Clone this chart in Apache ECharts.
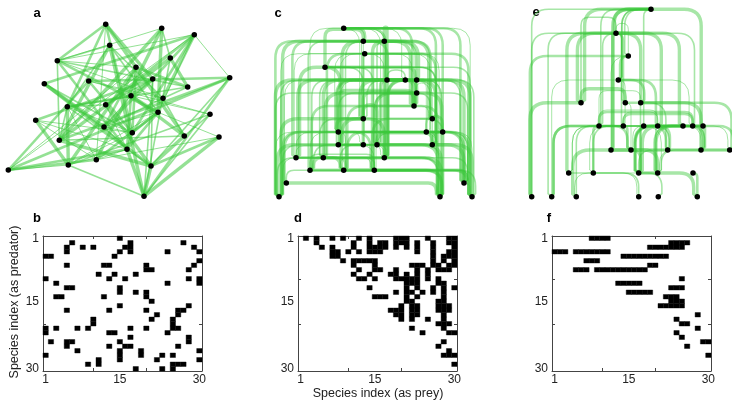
<!DOCTYPE html>
<html><head><meta charset="utf-8">
<script src="https://cdn.jsdelivr.net/npm/echarts@6.0.0/dist/echarts.min.js"></script>
<style>html,body{margin:0;padding:0;background:#fff}#chart{width:732px;height:401px}</style>
</head><body><div id="chart"></div>
<script>
// Adjacency matrices: row = predator index (1..30), list = prey indices (1..30)
const preyB = [[15],[6,17,27],[5,8,10,16,17,29],[5,15,17,24,30],[1,2,14],[30],[5,12,13,20,29],[20,21,28],[11,14,18],[1,13,16,28,30],
  [3,24,30],[5,6,15],[15,18,20],[3,4,12,20],[21],[15,28],[5,13,20,26,27],[22,26],[10,21,25],[10,25],
  [1,3,7,9,17,20,25,26],[1,13,14,24],[17,28],[2,5,6,15,28],[5,13,16,17,26],[7,15,19,30],[1,15,19,23,25],[11,15,22,30],[9,11,25,26,27],[18,23,25]];
const preyD = [[2,4,7,9,12,14,19,20,21,25,29,30],[4,11,14,16,17,19,20,21,23,26,29,30],[5,7,11,14,15,16,17,19,21,23,26,30],
  [7,8,10,12,14,15,16,23,26,29,30],[7,8,26,28,29,30],[9,11,12,13,14,15,26,28,30],[11,15,22,23,24,26,27,29,30],
  [12,15,16,19,23,25,27,28,29],[11,14,18,19,21,23,25],[12,13,15,19,20,21,22,23,25,27],[21,22,23,27,28],[14,21,23,26,28,30],
  [19,21,22,24,26,28],[15,16,17,21,23,28],[21,22,27,28],[20,22,23,27,28,29],[18,19,20,22,23,27,28,29],[19,20,22,23,28],
  [20,22,25,28],[27,28,29],[22,28],[24,29,30],[],[28],[27],[29],[28,29,30],[],[30],[]];
const preyF = [[8,9,10,11],[23,24,25,26],[19,20,21,22,23,24,25],[1,2,3,5,6,7,8,9,10,11],[14,15,16,17,18,19,20,21,22],[7,8,9],[19,20],
  [5,6,7,9,10,11,12,13,14,15,16,17,18],[],[25],[13,14,15,16,17],[23,24,25],[15,16,17,18,19],[22,23,24],[23,24,25],[21,22,23,24,25],
  [],[28],[24],[25,26],[28],[24],[25],[29,30],[26],[],[30],[],[],[]];

const tickLabels = [1, 15, 30];
const tickMarks = [10, 20];

// Network node layouts (panel-local layout units)
const nodeAX = [105.7,161.7,194.3,109.7,57.3,170.3,136,44.3,88.7,152.7,229.7,187.7,131,163,67.3,105.7,158,210,35.7,104,132.3,184.3,219,59.3,127,68.3,96.3,151,8.3,144];
const nodeAY = [24.3,28.3,34.7,45.3,60.7,58,67.3,83.7,81,79,77.7,87,95.7,98.3,106.7,104.7,112.3,114.3,120.3,127,132.7,136,137,140.3,149.3,165,159.7,166,170,196.3];
const nodeCX = [93.7,113.3,134.3,114.7,75,137,155.3,166.7,166.7,164,113.3,182.3,88.3,176.3,192.7,88.3,113.3,127,182.3,46,73.3,134.3,60,93.7,124.3,36.3,214,29,190,222];
const nodeCY = [28.3,41.3,41.3,53.7,67.3,80,80,80,93,106,118.7,118.7,132,132,132,144.7,144.7,144.7,144.7,157.7,157.7,157.7,170.3,170.3,170.3,183,183,196.7,196.7,196.7];
const nodeEX = [161,126,138.3,128.3,91,135.3,150.7,109,133.3,153.7,167.7,193,202.7,213,121,141,177.7,211,239.7,78.7,103.3,148.7,167.7,203,41.7,61.7,86.3,148.7,168.3,207.3];
const nodeEY = [9.3,33.3,56,80,102.7,102.7,102.7,126,126,126,126,126,126,126,150,150,150,150,150,173,173,173,173,173,196.7,196.7,196.7,196.7,196.7,196.7];

const EDGE = 'rgb(60,200,60)';
const FONT = 'Liberation Sans, Arial, sans-serif';

function trophicLevels(prey) {
  let tl = prey.map(() => 1);
  for (let it = 0; it < 200; it++) {
    tl = prey.map(l => l.length ? 1 + l.reduce((s, j) => s + tl[j - 1], 0) / l.length : 1);
  }
  return tl;
}
function mapByLevel(prey, xs, ys) {
  const tl = trophicLevels(prey);
  const sp = tl.map((v, i) => i).sort((a, b) => tl[b] - tl[a] || a - b);
  const nd = xs.map((v, i) => i).sort((a, b) => ys[a] - ys[b] || xs[a] - xs[b]);
  const m = new Array(prey.length);
  sp.forEach((s, k) => { m[s] = nd[k]; });
  return m;
}
function identity(n) { return Array.from({length: n}, (v, i) => i); }

function edgeData(prey, xs, ys, map) {
  const out = [];
  prey.forEach((list, i) => list.forEach(j => {
    const a = map[j - 1], b = map[i];
    out.push([xs[a], ys[a], xs[b], ys[b], (i + 2 * j) % 4]);
  }));
  return out;
}
const widths = [1, 1.6, 2.6, 3.4];

function straightEdge(params, api) {
  const p = api.coord([api.value(0), api.value(1)]);
  const q = api.coord([api.value(2), api.value(3)]);
  return {type: 'line', shape: {x1: p[0], y1: p[1], x2: q[0], y2: q[1]},
    style: {stroke: EDGE, lineWidth: widths[api.value(4)], opacity: 0.55}};
}
function routedEdge(params, api) {
  const p = api.coord([api.value(0), api.value(1)]);
  const q = api.coord([api.value(2), api.value(3)]);
  const k = params.dataIndex;
  let d;
  if (p[1] - q[1] > 6) {
    const vx = p[0] + ((k % 5) - 2) * 1.8;
    const dx = q[0] - vx, s = dx >= 0 ? 1 : -1;
    const r = Math.min(17, Math.abs(dx), (p[1] - q[1]) * 0.6);
    d = `M${p[0]} ${p[1]}L${vx} ${p[1] - 3}L${vx} ${q[1] + r}Q${vx} ${q[1]} ${vx + s * r} ${q[1]}L${q[0]} ${q[1]}`;
  } else {
    const top = Math.min(p[1], q[1]) - 10 - (k % 4) * 2;
    const s = q[0] >= p[0] ? 1 : -1;
    const r = Math.min(8, Math.abs(q[0] - p[0]) / 2);
    d = `M${p[0]} ${p[1]}L${p[0]} ${top + r}Q${p[0]} ${top} ${p[0] + s * r} ${top}L${q[0] - s * r} ${top}Q${q[0]} ${top} ${q[0]} ${top + r}L${q[0]} ${q[1]}`;
  }
  return {type: 'path', shape: {pathData: d},
    style: {fill: 'none', stroke: EDGE, lineWidth: widths[api.value(4)], opacity: 0.45}};
}
function cellItem(params, api) {
  const c = api.value(0), r = api.value(1);
  const p1 = api.coord([c - 0.5, r - 0.5]), p2 = api.coord([c + 0.5, r + 0.5]);
  return {type: 'rect', shape: {x: Math.min(p1[0], p2[0]), y: Math.min(p1[1], p2[1]),
    width: Math.abs(p2[0] - p1[0]), height: Math.abs(p2[1] - p1[1])},
    style: {fill: '#000', stroke: '#000', lineWidth: 0.4}};
}
function cells(prey) {
  const out = [];
  prey.forEach((l, i) => l.forEach(j => out.push([j, i + 1])));
  return out;
}

const netGrids = [{left: 0, top: 0, width: 250, height: 210}, {left: 250, top: 0, width: 240, height: 210}, {left: 490, top: 0, width: 242, height: 210}];
const matLefts = [43, 298, 552];
const grids = netGrids.concat(matLefts.map(l => ({left: l, top: 236, width: 159, height: 135})));

const xAxes = [], yAxes = [];
netGrids.forEach((g, k) => {
  xAxes.push({gridIndex: k, type: 'value', min: 0, max: g.width, show: false});
  yAxes.push({gridIndex: k, type: 'value', min: 0, max: g.height, inverse: true, show: false});
});
const lineStyle = {color: '#444', width: 1};
const lbl = {customValues: tickLabels, fontSize: 12, color: '#222', fontFamily: FONT};
const tck = {customValues: tickMarks, inside: true, length: 3, lineStyle: {color: '#444'}};
matLefts.forEach((l, k) => {
  xAxes.push({gridIndex: 3 + k, type: 'value', min: 0.5, max: 30.5, position: 'bottom',
    axisLine: {show: true, lineStyle}, axisTick: tck, axisLabel: Object.assign({margin: 3}, lbl), splitLine: {show: false}});
  yAxes.push({gridIndex: 3 + k, type: 'value', min: 0.5, max: 30.5, inverse: true, position: 'left',
    axisLine: {show: true, lineStyle}, axisTick: tck, axisLabel: Object.assign({margin: 4}, lbl), splitLine: {show: false}});
});
matLefts.forEach((l, k) => {
  xAxes.push({gridIndex: 3 + k, type: 'value', min: 0.5, max: 30.5, position: 'top',
    axisLine: {show: true, onZero: false, lineStyle}, axisTick: tck, axisLabel: {show: false}, splitLine: {show: false}});
  yAxes.push({gridIndex: 3 + k, type: 'value', min: 0.5, max: 30.5, inverse: true, position: 'right',
    axisLine: {show: true, onZero: false, lineStyle}, axisTick: tck, axisLabel: {show: false}, splitLine: {show: false}});
});

const mapA = identity(30);
const mapC = mapByLevel(preyD, nodeCX, nodeCY);
const mapE = mapByLevel(preyF, nodeEX, nodeEY);

const series = [
  {type: 'custom', xAxisIndex: 0, yAxisIndex: 0, renderItem: straightEdge, encode: {x: [0, 2], y: [1, 3]}, data: edgeData(preyB, nodeAX, nodeAY, mapA), silent: true},
  {type: 'custom', xAxisIndex: 1, yAxisIndex: 1, renderItem: routedEdge, encode: {x: [0, 2], y: [1, 3]}, data: edgeData(preyD, nodeCX, nodeCY, mapC), silent: true},
  {type: 'custom', xAxisIndex: 2, yAxisIndex: 2, renderItem: routedEdge, encode: {x: [0, 2], y: [1, 3]}, data: edgeData(preyF, nodeEX, nodeEY, mapE), silent: true},
];
[[nodeAX, nodeAY], [nodeCX, nodeCY], [nodeEX, nodeEY]].forEach((n, k) => {
  series.push({type: 'scatter', xAxisIndex: k, yAxisIndex: k, symbolSize: 5.5, itemStyle: {color: '#000', opacity: 1}, z: 5,
    data: n[0].map((x, i) => [x, n[1][i]]), silent: true});
});
[preyB, preyD, preyF].forEach((m, k) => {
  series.push({type: 'custom', xAxisIndex: 3 + k, yAxisIndex: 3 + k, renderItem: cellItem, data: cells(m), silent: true});
});

const letter = (t, x, y) => ({type: 'text', x, y, style: {text: t, font: 'bold 13px ' + FONT, fill: '#000', textAlign: 'center', textVerticalAlign: 'middle'}});
const chart = echarts.init(document.getElementById('chart'), null, {renderer: 'canvas'});
chart.setOption({
  animation: false,
  grid: grids,
  xAxis: xAxes,
  yAxis: yAxes,
  series,
  graphic: [
    letter('a', 37, 13), letter('c', 278, 13), letter('e', 536, 12),
    letter('b', 37, 218), letter('d', 298, 218), letter('f', 549, 218),
    {type: 'text', x: 15, y: 302, rotation: Math.PI / 2, style: {text: 'Species index (as predator)', font: '12.5px ' + FONT, fill: '#222', textAlign: 'center', textVerticalAlign: 'middle'}},
    {type: 'text', x: 378, y: 394, style: {text: 'Species index (as prey)', font: '12.5px ' + FONT, fill: '#222', textAlign: 'center', textVerticalAlign: 'middle'}}
  ]
});
</script></body></html>
